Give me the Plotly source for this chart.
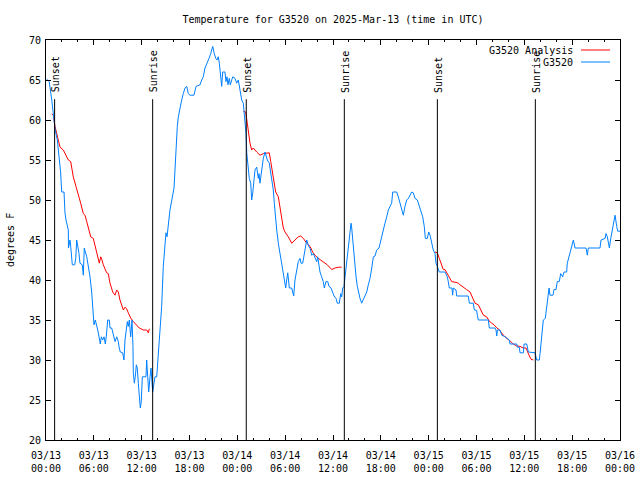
import plotly.graph_objects as go
import pandas as pd

BASE = pd.Timestamp("2025-03-13 00:00")

# Observed G3520 (hours since 03/13 00:00 UTC, degrees F)
obs_hours = [0.09, 0.41, 0.72, 0.84, 1.00, 1.13, 1.42, 1.54, 1.84, 1.97, 2.26, 2.38, 2.51, 2.80, 2.82, 2.92,
             3.01, 3.10, 3.22, 3.30, 3.60, 3.73, 3.85, 4.01, 4.14, 4.26, 4.55, 4.68, 4.80, 5.11, 5.23, 5.39,
             5.52, 5.73, 5.86, 6.02, 6.18, 6.36, 6.49, 6.65, 6.81, 6.94, 7.11, 7.28, 7.44, 7.56, 7.74, 7.94,
             8.03, 8.24, 8.44, 8.66, 8.87, 9.07, 9.19, 9.32, 9.62, 9.78, 9.91, 10.04, 10.20, 10.32, 10.45,
             10.62, 10.79, 10.91, 10.95, 11.08, 11.20, 11.33, 11.45, 11.58, 11.70, 11.83, 11.95, 12.08,
             12.54, 12.63, 12.76, 12.88, 13.05, 13.17, 13.38, 13.55, 13.67, 13.89, 14.09, 14.30, 14.51,
             14.71, 14.93, 15.05, 15.18, 15.34, 15.55, 16.06, 16.18, 16.31, 16.47, 16.60, 16.81, 17.02,
             17.22, 17.44, 17.65, 17.85, 18.06, 18.56, 18.82, 19.32, 19.53, 19.73, 19.94, 20.23, 20.45,
             20.66, 20.91, 21.11, 21.29, 21.45, 21.61, 21.74, 21.91, 22.04, 22.16, 22.45, 22.58, 22.70,
             22.83, 22.99, 23.12, 23.24, 23.42, 23.71, 23.92, 24.12, 24.34, 24.55, 24.75, 24.96, 25.09,
             25.18, 25.25, 25.38, 25.50, 25.68, 25.80, 25.93, 26.09, 26.22, 26.43, 26.63, 26.72, 26.84,
             27.06, 27.26, 27.47, 27.60, 27.76, 28.01, 28.19, 28.35, 28.51, 28.64, 28.76, 28.94, 29.14,
             29.35, 29.57, 29.77, 29.94, 30.07, 30.19, 30.32, 30.42, 30.52, 30.82, 30.95, 31.07, 31.23,
             31.45, 31.65, 31.86, 31.99, 32.20, 32.36, 32.58, 32.70, 32.83, 32.95, 33.12, 33.33, 33.53,
             33.74, 33.96, 34.08, 34.21, 34.37, 34.58, 34.78, 34.91, 35.12, 35.34, 35.50, 35.75, 35.96,
             36.13, 36.38, 36.54, 36.79, 36.97, 37.09, 37.22, 37.38, 37.51, 37.72, 37.92, 38.05, 38.13,
             38.26, 38.35, 38.47, 38.64, 38.76, 38.89, 39.05, 39.23, 39.39, 39.60, 39.80, 40.01, 40.23,
             40.43, 40.64, 40.86, 41.06, 41.27, 41.48, 41.77, 41.90, 42.11, 42.31, 42.52, 42.74, 42.94,
             43.15, 43.36, 43.49, 43.99, 44.19, 44.41, 44.62, 44.82, 45.03, 45.25, 45.45, 45.66, 45.87,
             46.07, 46.29, 46.58, 46.79, 47.00, 47.25, 47.45, 47.58, 47.83, 48.01, 48.17, 48.38, 48.58,
             48.80, 48.92, 49.09, 49.33, 50.05, 50.17, 50.34, 50.46, 50.59, 50.92, 51.01, 51.09, 51.43,
             51.52, 52.97, 53.10, 53.60, 53.73, 54.02, 54.10, 54.23, 55.48, 55.61, 56.32, 56.45, 56.54,
             56.62, 56.95, 57.17, 57.58, 57.87, 58.12, 58.21, 59.05, 59.12, 59.37, 59.46, 59.88, 59.97,
             60.30, 60.50, 61.34, 61.55, 61.88, 61.97, 62.18, 62.38, 62.63, 62.81, 63.01, 63.10, 63.22,
             63.60, 63.72, 63.97, 64.13, 64.38, 64.56, 64.81, 64.98, 65.31, 65.39, 65.60, 65.82, 65.98,
             66.15, 66.36, 67.74, 67.90, 68.03, 69.49, 69.62, 70.13, 70.25, 70.41, 70.54, 70.67, 70.84,
             70.97, 71.09, 71.25, 71.38, 71.59, 71.71, 72.00]
obs_temp = [65.1, 64.8, 62.5, 61.25, 60.0, 58.9, 57.5, 56.25, 53.4, 51.0, 51.0, 48.4, 47.5, 46.25, 44.0, 44.5,
            45.0, 44.2, 42.7, 41.9, 41.9, 42.7, 45.0, 44.2, 43.3, 42.1, 41.9, 40.6, 44.0, 42.9, 42.3, 41.5,
            40.4, 38.5, 37.1, 34.4, 35.0, 34.4, 33.75, 32.9, 32.0, 32.9, 32.5, 32.9, 32.0, 32.9, 35.0, 35.0,
            34.0, 34.0, 33.1, 32.3, 32.9, 32.3, 31.5, 31.0, 30.9, 30.0, 32.5, 33.75, 34.8, 34.2, 35.0,
            32.9, 35.0, 31.7, 28.4, 27.1, 27.9, 29.4, 29.0, 27.1, 25.0, 24.0, 24.8, 27.9,
            27.9, 30.0, 27.9, 26.0, 27.9, 29.0, 26.0, 27.5, 27.9, 27.9, 30.4, 33.4, 36.7,
            41.7, 44.6, 45.9, 45.4, 47.1, 48.75, 51.5, 53.75, 57.5, 59.2, 60.4, 61.7, 62.5,
            63.3, 64.0, 64.2, 63.3, 63.1, 63.1, 64.2, 64.4, 65.0, 65.4, 66.5, 67.1, 67.7,
            68.3, 69.2, 68.3, 67.7, 67.5, 67.9, 67.1, 65.8, 64.2, 66.0, 66.0, 64.8, 65.4,
            64.4, 65.2, 64.4, 64.8, 65.4, 65.2, 64.6, 65.0, 63.5, 62.5, 62.1, 59.8, 58.3,
            55.9, 55.0, 53.75, 52.7, 52.1, 50.0, 50.9, 52.3, 53.75, 54.1, 52.7, 53.3, 52.1,
            53.75, 55.2, 56.0, 55.6, 55.0, 54.6, 53.3, 52.3, 51.25, 49.6, 47.7, 46.25, 44.6,
            43.3, 41.9, 41.0, 40.0, 39.0, 40.0, 40.9, 40.0, 39.0, 39.0, 38.5, 38.0, 40.0,
            41.0, 42.3, 42.7, 42.1, 42.1, 42.9, 44.2, 45.0, 44.6, 44.2, 44.0, 43.1, 43.3,
            42.7, 42.3, 42.9, 41.9, 41.0, 40.4, 39.8, 39.0, 39.8, 39.8, 39.2, 39.0, 38.5,
            38.0, 37.7, 37.1, 37.1, 38.3, 37.9, 39.0, 39.2, 40.4, 42.1, 44.2, 45.0, 46.5,
            47.1, 46.5, 45.0, 43.75, 42.1, 40.4, 39.2, 38.3, 37.7, 37.1, 37.5, 37.9, 38.5,
            39.4, 40.2, 41.5, 42.9, 43.0, 43.75, 44.0, 44.6, 45.4, 46.25, 47.1, 47.9, 48.75,
            49.2, 49.6, 51.0, 51.0, 50.4, 49.6, 48.75, 48.1, 49.2, 50.0, 50.2, 50.6, 51.0,
            50.9, 50.2, 50.0, 49.4, 48.75, 47.9, 46.7, 45.2, 45.2, 46.0, 45.6, 44.6, 43.75,
            43.3, 42.1, 41.7, 41.0, 41.0, 40.8, 40.4, 39.8, 39.0, 39.0, 38.1, 39.0, 38.75,
            38.0, 38.0, 37.1, 37.1, 36.25, 36.2, 35.6, 35.0, 35.0, 34.0, 34.0, 33.75, 33.0,
            33.75, 33.75, 33.1, 32.9, 32.7, 32.5, 32.0, 32.0, 31.6, 31.6, 30.9, 30.9, 32.0,
            32.0, 31.0, 30.9, 30.0, 30.0, 30.8, 33.5, 35.0, 35.2, 36.7, 38.3, 39.0, 38.1,
            38.1, 38.8, 38.8, 39.8, 39.8, 40.8, 40.4, 41.0, 41.0, 42.1, 42.9, 43.75, 44.6,
            45.0, 44.0, 44.0, 43.1, 44.0, 44.0, 45.0, 45.2, 45.8, 45.4, 44.6, 44.0, 45.2,
            45.8, 46.7, 47.5, 48.1, 46.7, 46.1, 46.1]

# G3520 Analysis (three night-time segments, None = gap)
ana_hours = [0.72, 0.92, 1.13, 1.54, 1.76, 2.17, 2.80, 3.10, 3.42, 3.76, 4.05, 4.35, 4.68, 4.89, 5.11, 5.31,
             5.43, 5.61, 5.93, 6.15, 6.36, 6.69, 6.86, 6.99, 7.19, 7.40, 7.61, 7.81, 8.03, 8.37, 8.66, 8.87,
             9.07, 9.28, 9.50, 9.70, 9.91, 10.12, 10.32, 10.62, 10.95, 11.38, 11.70, 12.21, 12.63, 12.84,
             12.96, None,
             24.75, 25.05, 25.25, 25.38, 25.59, 25.80, 26.00, 26.43, 26.84, 27.26, 28.01, 28.19, 28.39,
             28.60, 28.81, 29.14, 29.35, 29.57, 29.77, 29.98, 30.39, 30.82, 31.23, 31.65, 31.95, 32.28,
             32.70, 33.12, 33.45, 33.74, 34.16, 34.78, 35.29, 35.84, 36.25, 36.67, 37.09, None,
             48.80, 49.09, 49.33, 49.64, 49.84, 50.05, 50.34, 50.68, 50.89, 51.43, 51.72, 51.93, 52.27,
             52.77, 53.19, 53.52, 53.81, 54.23, 54.53, 54.86, 55.28, 55.57, 55.91, 56.20, 56.54, 56.86,
             57.07, 57.36, 57.70, 57.99, 58.29, 58.62, 59.05, 59.46, 59.88, 60.21, 60.38, 60.63, 60.84,
             61.13]
ana_temp = [60.75, 60.6, 59.2, 57.5, 56.6, 56.25, 55.0, 54.8, 52.9, 51.7, 50.8, 49.6, 48.3, 48.1, 47.3, 46.5,
            46.0, 45.4, 45.2, 44.4, 43.3, 42.1, 42.9, 42.6, 41.9, 41.25, 40.9, 40.8, 39.6, 38.5, 38.1, 38.75,
            38.5, 37.5, 36.9, 36.25, 36.6, 36.4, 35.9, 35.25, 34.8, 34.4, 34.0, 33.75, 33.75, 33.4,
            33.9, None,
            61.1, 61.0, 59.6, 58.3, 57.1, 56.25, 56.5, 56.0, 55.6, 55.8, 55.9, 54.8, 53.5,
            52.3, 51.0, 50.4, 49.2, 47.7, 46.5, 46.0, 45.4, 44.6, 45.0, 45.4, 45.5, 45.2,
            44.6, 44.2, 43.5, 43.1, 42.7, 42.3, 41.9, 41.3, 41.5, 41.6, 41.6, None,
            43.5, 43.4, 42.7, 41.7, 41.3, 41.3, 40.8, 40.2, 39.8, 39.7, 39.6, 39.4, 39.2,
            38.8, 38.5, 37.7, 37.1, 36.9, 36.25, 35.6, 35.4, 34.9, 34.6, 34.4, 34.0, 33.8,
            33.5, 33.1, 32.8, 32.6, 32.3, 32.0, 31.75, 31.7, 31.5, 31.5, 31.0, 30.5, 30.1,
            30.0]

# Sun events (hours since 03/13 00:00 UTC)
sun_hours = [1.08, 13.38, 25.12, 37.42, 49.09, 61.38]
sun_labels = ["Sunset", "Sunrise", "Sunset", "Sunrise", "Sunset", "Sunrise"]

# X tick labels every 6 hours
tick_hours = [0, 6, 12, 18, 24, 30, 36, 42, 48, 54, 60, 66, 72]
tick_labels = ["03/13<br>00:00", "03/13<br>06:00", "03/13<br>12:00", "03/13<br>18:00",
               "03/14<br>00:00", "03/14<br>06:00", "03/14<br>12:00", "03/14<br>18:00",
               "03/15<br>00:00", "03/15<br>06:00", "03/15<br>12:00", "03/15<br>18:00",
               "03/16<br>00:00"]


def to_time(hours):
    return [None if h is None else BASE + pd.Timedelta(hours=h) for h in hours]


FONT = "DejaVu Sans Mono"
RED = "#ff0000"
BLUE = "#0080ff"

fig = go.Figure()
fig.add_trace(go.Scatter(x=to_time(ana_hours), y=ana_temp, mode="lines", name="G3520 Analysis",
                         line=dict(color=RED, width=1), connectgaps=False, showlegend=False))
fig.add_trace(go.Scatter(x=to_time(obs_hours), y=obs_temp, mode="lines", name="G3520",
                         line=dict(color=BLUE, width=1), showlegend=False))

# sunrise/sunset markers
for h, lab in zip(sun_hours, sun_labels):
    t = BASE + pd.Timedelta(hours=h)
    fig.add_shape(type="line", x0=t, x1=t, y0=20, y1=62.6, xref="x", yref="y",
                  line=dict(color="black", width=1))
    fig.add_annotation(x=t, y=63.3, xref="x", yref="y", text=lab, textangle=-90,
                       showarrow=False, xanchor="center", yanchor="bottom", borderpad=0,
                       xshift=1, font=dict(family=FONT, size=10, color="black"))

# manual legend (gnuplot style: text then sample line)
W, H = 640, 480
L, R, T, B = 46, 20, 40, 40
pw, ph = W - L - R, H - T - B
px = lambda x: (x - L) / pw
py = lambda y: 1 - (y - T) / ph
for name, col, ypix in [("G3520 Analysis", RED, 50), ("G3520", BLUE, 62)]:
    fig.add_annotation(x=px(574), y=py(ypix), xref="paper", yref="paper", text=name,
                       showarrow=False, xanchor="right", yanchor="middle", borderpad=0,
                       font=dict(family=FONT, size=10, color="black"))
    fig.add_shape(type="line", x0=px(581), x1=px(610), y0=py(ypix), y1=py(ypix),
                  xref="paper", yref="paper", line=dict(color=col, width=1))

fig.add_annotation(x=px(10), y=0.5, xref="paper", yref="paper", text="degrees F", textangle=-90,
                   showarrow=False, xanchor="center", yanchor="middle",
                   font=dict(family=FONT, size=10, color="black"))

fig.update_layout(
    width=W, height=H,
    margin=dict(l=L, r=R, t=T, b=B, pad=0, autoexpand=False),
    paper_bgcolor="white", plot_bgcolor="white",
    title=dict(text="Temperature for G3520 on 2025-Mar-13 (time in UTC)", x=0.5, xref="paper",
               y=1 - 19 / H, yanchor="middle", font=dict(family=FONT, size=10, color="black")),
    font=dict(family=FONT, size=10, color="black"),
    showlegend=False,
)
fig.update_xaxes(
    type="date",
    range=[BASE, BASE + pd.Timedelta(hours=72)],
    tickmode="array", tickvals=to_time(tick_hours), ticktext=tick_labels,
    ticks="inside", ticklen=5, tickcolor="black", tickwidth=1,
    minor=dict(dtick=2 * 3600000, ticks="inside", ticklen=2, tickcolor="black", tickwidth=1,
               tick0=BASE),
    showline=True, linecolor="black", linewidth=1, mirror="ticks",
    showgrid=False, zeroline=False, automargin=False, ticklabelstandoff=6,
    tickfont=dict(family=FONT, size=10, color="black"),
)
fig.update_yaxes(
    range=[20, 70], tickmode="linear", tick0=20, dtick=5,
    ticks="inside", ticklen=5, tickcolor="black", tickwidth=1,
    showline=True, linecolor="black", linewidth=1, mirror="ticks",
    showgrid=False, zeroline=False, automargin=False, ticklabelstandoff=2,
    tickfont=dict(family=FONT, size=10, color="black"),
)

fig.write_html("out.html", config={"displayModeBar": False},
               post_script="document.body.style.margin='0';")
